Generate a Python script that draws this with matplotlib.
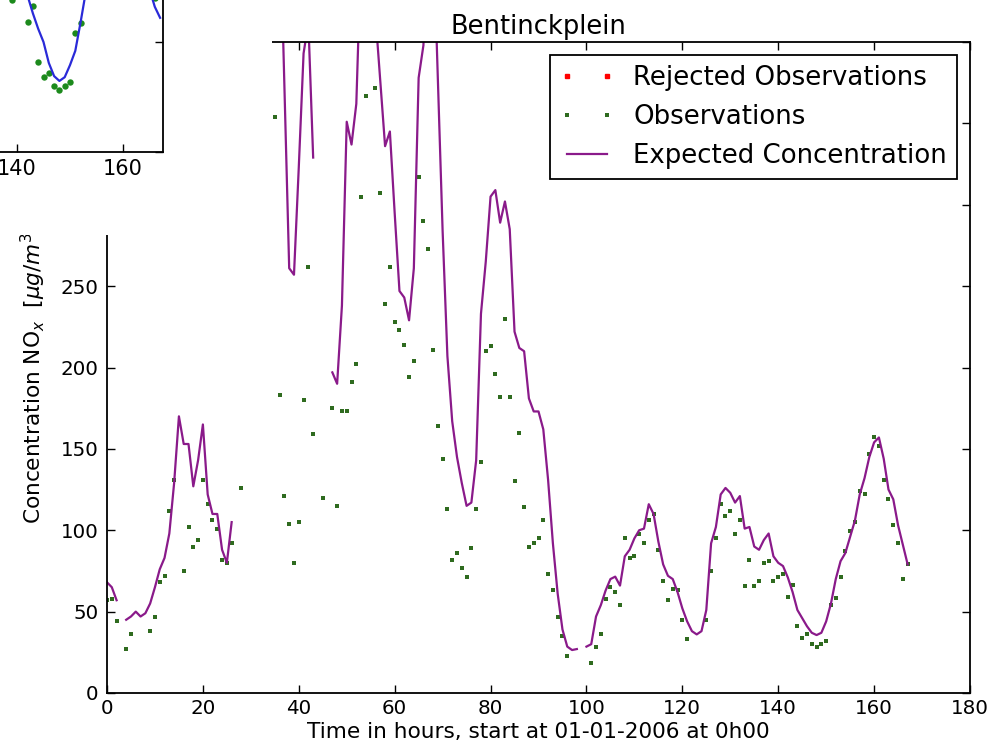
import numpy as np
import matplotlib
matplotlib.use("Agg")
import matplotlib.pyplot as plt

nan = np.nan
hours = list(range(168))

observations = [57, 58, 44, nan, 27, 36, nan, nan, nan, 38,
                47, 68, 72, 112, 131, nan, 75, 102, 90, 94,
                131, 116, 106, 101, 82, 80, 92, nan, 126, nan,
                nan, nan, nan, nan, nan, 354, 183, 121, 104, 80,
                105, 180, 262, 159, nan, 120, nan, 175, 115, 173,
                173, 191, 202, 305, 367, nan, 372, 307, 239, 262,
                228, 223, 214, 194, 204, 317, 290, 273, 211, 164,
                144, 113, 81.5, 86, 76.5, 71, 89, 113, 142, 210,
                213, 196, 182, 230, 182, 130, 160, 114, 90, 92,
                95, 106, 73, 63, 47, 35, 23, nan, nan, nan,
                nan, 18.5, 28, 36, 58, 65, 62, 54, 95, 83,
                84, 98, 92, 106, 110, 88, 69, 57, 64, 63,
                45, 33, nan, nan, nan, 45, 75, 95, 116, 109,
                112, 98, 106, 66, 82, 66, 69, 80, 81, 69,
                71, 73, 59, 66.5, 41, 34, 36, 30, 28, 30,
                32, 54, 58.5, 71, 87, 99.5, 105, 124, 122, 147,
                157, 152, 131, 119, 103, 92, 70, 79]

expected = [68, 65, 57, nan, 45, 47, 50, 47, 49, 55,
            65, 76, 83, 98, 129, 170, 153, 153, 127, 143,
            165, 122, 110, 110, 88, 80, 105, nan, nan, nan,
            nan, nan, nan, nan, nan, 560, 485, 373, 261, 257,
            323, 393, 412, 329, nan, nan, nan, 197, 190, 238,
            351, 337, 362, 457, 500, 470, 416, 376, 336, 345,
            295, 247, 243, 229, 261, 378, 398, 480, 472, 378,
            284, 207, 167, 145, 129, 115, 117, 143, 233, 265,
            305, 309, 289, 302, 285, 222, 212, 210, 181, 173,
            173, 162, 131, 92, 61, 39, 28.5, 26.4, 27, nan,
            28.5, 30, 47, 54, 63, 70, 71.5, 66, 84, 88,
            95, 100, 101, 116, 110, 93, 79, 72, 70, 62,
            52, 44, 38, 36, 38, 51, 92, 102, 122, 126,
            123, 117, 121, 101, 102, 90, 88, 94, 98, 84,
            80, 78, 71, 62, 51, 46, 41, 37, 35.6, 37,
            44, 55, 70, 81, 86, 96, 106, 122, 132, 145,
            154, 157, 144, 125, 119, 103, 91, 79]

rejected_hours = []
rejected_values = []

# earlier model run shown in the partly covered window (top left)
inset_hours = list(range(138, 168))
inset_expected = [95, 88, 82, 76, 71, 63, 56, 50, 40.5, 34.5,
                  32.3, 34, 39.5, 46, 59, 73, 86, 96, 106, 118,
                  130, 142, 150, 150, 138, 120, 102, 74, 66, 61]

x_ticks = list(range(0, 181, 20))
y_ticks = list(range(0, 401, 50))

title = "Bentinckplein"
xlabel = "Time in hours, start at 01-01-2006 at 0h00"
ylabel = r"Concentration NO$_x$  $[\mu g/m^3]$"

plt.rcParams.update({
    "font.family": ["DejaVu Sans"],
    "xtick.direction": "in", "ytick.direction": "in",
    "xtick.top": True, "ytick.right": True,
    "xtick.major.size": 5.5, "ytick.major.size": 5.5,
    "xtick.major.width": 1.0, "ytick.major.width": 1.0,
    "axes.linewidth": 1.3,
})

W, H = 1001, 755
fig = plt.figure(figsize=(W / 100, H / 100), dpi=100, facecolor="white")

def frac(x0, y0, x1, y1):
    return [x0 / W, 1 - y1 / H, (x1 - x0) / W, (y1 - y0) / H]

ax = fig.add_axes(frac(107, 42, 970, 693))
ax.plot(rejected_hours, rejected_values, linestyle="none", marker="s",
        markersize=2.6, color="red", label="Rejected Observations")
ax.plot(hours, observations, linestyle="none", marker="s", markersize=3,
        color="#2f6b1f", markeredgewidth=0, label="Observations")
ax.plot(hours, expected, color="#8a1a8a", linewidth=1.6,
        label="Expected Concentration")
ax.set_xticks(x_ticks)
ax.set_yticks(y_ticks)
ax.set_xlim(0, 180)
ax.set_ylim(0, 400)
ax.tick_params(axis="x", labelsize=14.3, pad=4)
ax.tick_params(axis="y", labelsize=14.3, pad=6)
ax.set_xlabel(xlabel, fontsize=15.6, labelpad=3)
ax.set_ylabel(ylabel, fontsize=15.6, labelpad=9)
ax.yaxis.label.set_y(0.49)
ax.set_title(title, fontsize=18.5, pad=6)
leg = ax.legend(loc="upper right", numpoints=2, fontsize=18.7, fancybox=False,
                framealpha=1, edgecolor="black", handlelength=2.15,
                handletextpad=0.7, labelspacing=0.5, borderpad=0.38,
                borderaxespad=0.5)
leg.get_frame().set_linewidth(1.3)

# white window covering the top-left corner
ov = fig.add_axes(frac(0, 0, 272, 235))
ov.set_zorder(5)
ov.patch.set_facecolor("white")
for s in ov.spines.values():
    s.set_visible(False)
ov.set_xticks([])
ov.set_yticks([])

# part of an earlier plot inside that window
ins = fig.add_axes(frac(-725, -68, 163, 152))
ins.set_zorder(6)
ins.plot(hours, observations, linestyle="none", marker="o", markersize=4.6,
         color="#1c8a1c", markeredgewidth=0)
ins.plot(inset_hours, inset_expected, color="#2a2ad8", linewidth=1.6)
ins.set_xticks(x_ticks)
ins.set_yticks([0, 50, 100])
ins.set_xlim(0, 888 / 5.3)
ins.set_ylim(0, 100)
ins.tick_params(axis="x", labelsize=15, pad=5)
ins.tick_params(labelleft=False)

fig.savefig("out.png", dpi=100, facecolor="white")
